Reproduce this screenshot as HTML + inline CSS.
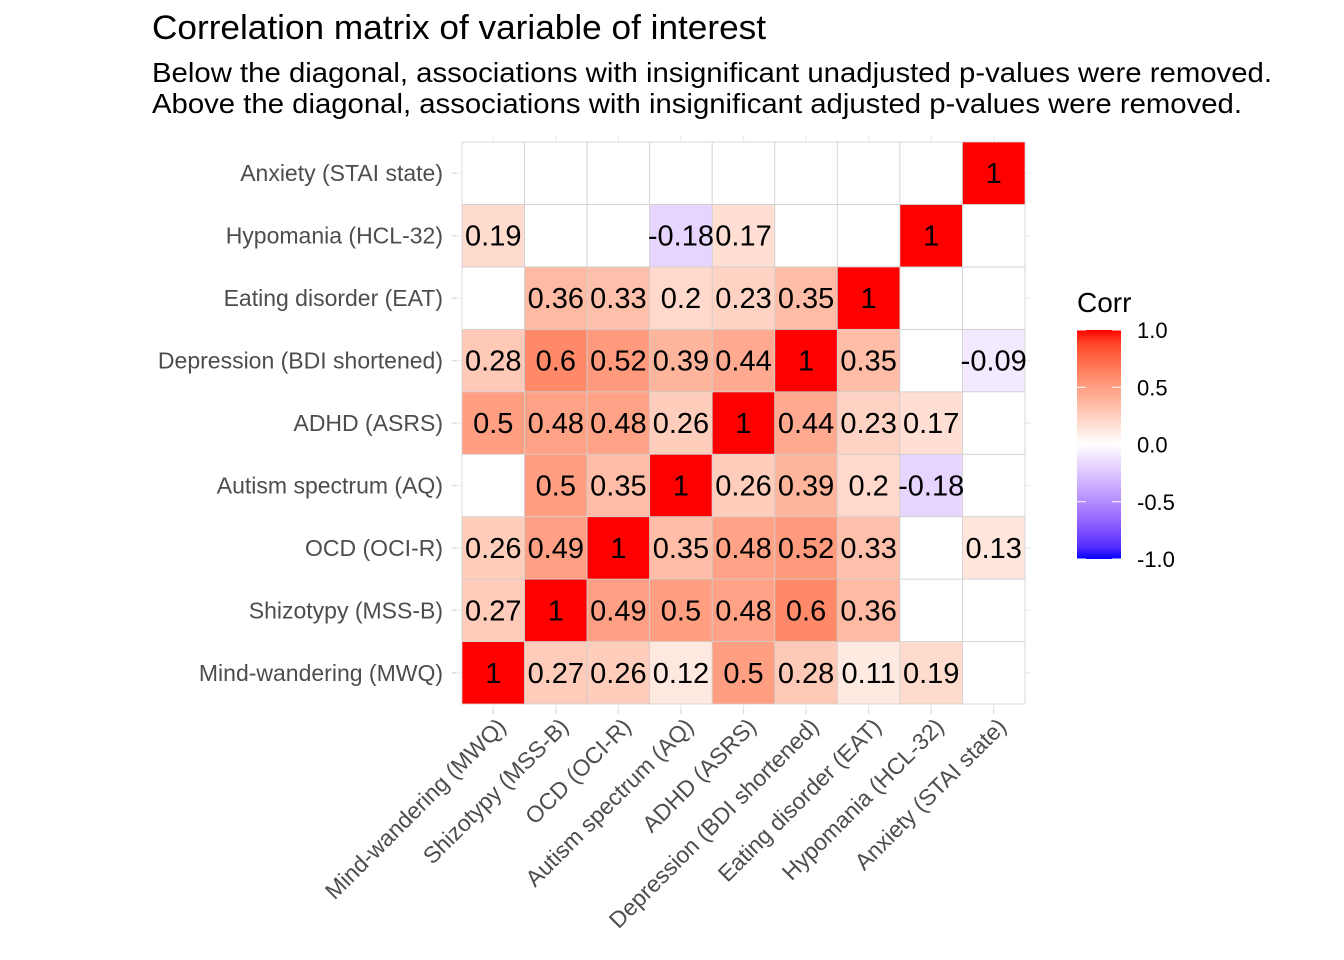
<!DOCTYPE html>
<html><head><meta charset="utf-8"><style>
body{margin:0;background:#fff;}
svg{display:block;font-family:"Liberation Sans",Arial,sans-serif;}
</style></head><body>
<svg id="chart" width="1344" height="960" viewBox="0 0 1344 960" xmlns="http://www.w3.org/2000/svg">
<text x="152" y="39" font-size="34" fill="#000" textLength="614" lengthAdjust="spacingAndGlyphs">Correlation matrix of variable of interest</text>
<text x="152" y="82" font-size="28" fill="#000" textLength="1120" lengthAdjust="spacingAndGlyphs">Below the diagonal, associations with insignificant unadjusted p-values were removed.</text>
<text x="152" y="113" font-size="28" fill="#000" textLength="1090" lengthAdjust="spacingAndGlyphs">Above the diagonal, associations with insignificant adjusted p-values were removed.</text>
<g id="grid"></g><g id="cells"></g><g id="labels"></g><g id="axes"></g><g id="legend"></g>
</svg>
<script>
const variables = ["Mind-wandering (MWQ)","Shizotypy (MSS-B)","OCD (OCI-R)","Autism spectrum (AQ)","ADHD (ASRS)","Depression (BDI shortened)","Eating disorder (EAT)","Hypomania (HCL-32)","Anxiety (STAI state)"];
const rowMind = [1,0.27,0.26,0.12,0.5,0.28,0.11,0.19,null];
const rowShiz = [0.27,1,0.49,0.5,0.48,0.6,0.36,null,null];
const rowOCD = [0.26,0.49,1,0.35,0.48,0.52,0.33,null,0.13];
const rowAutism = [null,0.5,0.35,1,0.26,0.39,0.2,-0.18,null];
const rowADHD = [0.5,0.48,0.48,0.26,1,0.44,0.23,0.17,null];
const rowDep = [0.28,0.6,0.52,0.39,0.44,1,0.35,null,-0.09];
const rowEat = [null,0.36,0.33,0.2,0.23,0.35,1,null,null];
const rowHypo = [0.19,null,null,-0.18,0.17,null,null,1,null];
const rowAnx = [null,null,null,null,null,null,null,null,1];
const matrix = [rowMind,rowShiz,rowOCD,rowAutism,rowADHD,rowDep,rowEat,rowHypo,rowAnx];
const legendTicks = [1.0,0.5,0.0,-0.5,-1.0];
const legendTickLabels = ["1.0","0.5","0.0","-0.5","-1.0"];

const NS="http://www.w3.org/2000/svg";
const x0=462, x1=1025, y0=142, y1=704, n=variables.length;
const cw=(x1-x0)/n, ch=(y1-y0)/n;
const xPos=i=>x0+i*cw;
const yPos=j=>y1-(j+1)*ch;
function mk(tag,attrs,parent){const e=document.createElementNS(NS,tag);for(const k in attrs)e.setAttribute(k,attrs[k]);parent.appendChild(e);return e;}

function srgb2lin(c){c/=255;return c<=0.04045?c/12.92:Math.pow((c+0.055)/1.055,2.4);}
function lin2srgb(c){c=c<=0.0031308?12.92*c:1.055*Math.pow(c,1/2.4)-0.055;return Math.round(Math.max(0,Math.min(1,c))*255);}
const Xn=0.95047,Yn=1,Zn=1.08883;
function f(t){return t>0.008856?Math.cbrt(t):7.787*t+16/116;}
function fi(t){return t>0.206893?t*t*t:(t-16/116)/7.787;}
function toLab(r,g,b){r=srgb2lin(r);g=srgb2lin(g);b=srgb2lin(b);
 const X=r*0.4124+g*0.3576+b*0.1805,Y=r*0.2126+g*0.7152+b*0.0722,Z=r*0.0193+g*0.1192+b*0.9505;
 const fx=f(X/Xn),fy=f(Y/Yn),fz=f(Z/Zn);return [116*fy-16,500*(fx-fy),200*(fy-fz)];}
function fromLab(L,a,bb){const fy=(L+16)/116,fx=fy+a/500,fz=fy-bb/200;
 const X=fi(fx)*Xn,Y=fi(fy)*Yn,Z=fi(fz)*Zn;
 const r=3.2406*X-1.5372*Y-0.4986*Z,g=-0.9689*X+1.8758*Y+0.0415*Z,b=0.0557*X-0.2040*Y+1.0570*Z;
 return `rgb(${lin2srgb(r)},${lin2srgb(g)},${lin2srgb(b)})`;}
const W=toLab(255,255,255),R=toLab(255,0,0),B=toLab(0,0,255);
function color(v){const t=Math.abs(v),c=v>=0?R:B;return fromLab(W[0]+(c[0]-W[0])*t,W[1]+(c[1]-W[1])*t,W[2]+(c[2]-W[2])*t);}

const grid=document.getElementById('grid');
for(let i=0;i<n;i++){
 const cx=xPos(i)+cw/2, cy=yPos(i)+ch/2;
 let l=mk('line',{x1:cx,x2:cx,y1:y0-6,y2:y1+6,stroke:"#ebebeb","stroke-width":1.2},grid);
 
 l=mk('line',{x1:x0-6,x2:x1+6,y1:cy,y2:cy,stroke:"#ebebeb","stroke-width":1.2},grid);
 
}
const cells=document.getElementById('cells'),labels=document.getElementById('labels');
for(let j=0;j<n;j++)for(let i=0;i<n;i++){
 const v=matrix[j][i];
 const r=mk('rect',{x:xPos(i),y:yPos(j),width:cw,height:ch,fill:v===null?"#fff":color(v),stroke:"#cfcfcf","stroke-width":0.8},cells);
 
 
 if(v!==null){
  const t=mk('text',{x:xPos(i)+cw/2,y:yPos(j)+ch/2+10,"text-anchor":"middle","font-size":29,fill:"#000"},labels);
  t.textContent=String(v);
  
  
 }
}
const axes=document.getElementById('axes');
for(let i=0;i<n;i++){
 const cy=yPos(i)+ch/2;
 let t=mk('text',{x:x0-19,y:cy+8,"text-anchor":"end","font-size":23,fill:"#4d4d4d"},axes);
 t.textContent=variables[i];
 let k=mk('line',{x1:x0-10,x2:x0-6,y1:cy,y2:cy,stroke:"#ddd","stroke-width":1.5},axes);
 
 const cx=xPos(i)+cw/2;
 k=mk('line',{x1:cx,x2:cx,y1:y1+6,y2:y1+10,stroke:"#ddd","stroke-width":1.5},axes);
 
 t=mk('text',{x:cx+14,y:y1+24,"text-anchor":"end","font-size":23,fill:"#4d4d4d",transform:`rotate(-45 ${cx+14} ${y1+24})`},axes);
 t.textContent=variables[i];
}
const lg=document.getElementById('legend');
let lt=mk('text',{x:1077,y:312,"font-size":28,fill:"#000"},lg);
lt.textContent="Corr";
const bx=1077,bw=44,by0=330,by1=559;
const defs=mk('defs',{},lg);
const grad=mk('linearGradient',{id:"lg",x1:0,y1:0,x2:0,y2:1},defs);
for(let s=0;s<=20;s++){const v=1-s/10;mk('stop',{offset:(s/20),"stop-color":color(v)},grad);}
let bar=mk('rect',{x:bx,y:by0,width:bw,height:by1-by0,fill:"url(#lg)"},lg);

const ly=v=>by0+(1-v)/2*(by1-by0);
legendTicks.forEach((v,k)=>{
 const y=ly(v);
 let l=mk('line',{x1:bx,x2:bx+9,y1:y,y2:y,stroke:"#fff","stroke-width":1},lg);
 
 l=mk('line',{x1:bx+bw-9,x2:bx+bw,y1:y,y2:y,stroke:"#fff","stroke-width":1},lg);
 
 const t=mk('text',{x:1137,y:y+8,"font-size":22,fill:"#000"},lg);
 t.textContent=legendTickLabels[k];
});
</script>
</body></html>
